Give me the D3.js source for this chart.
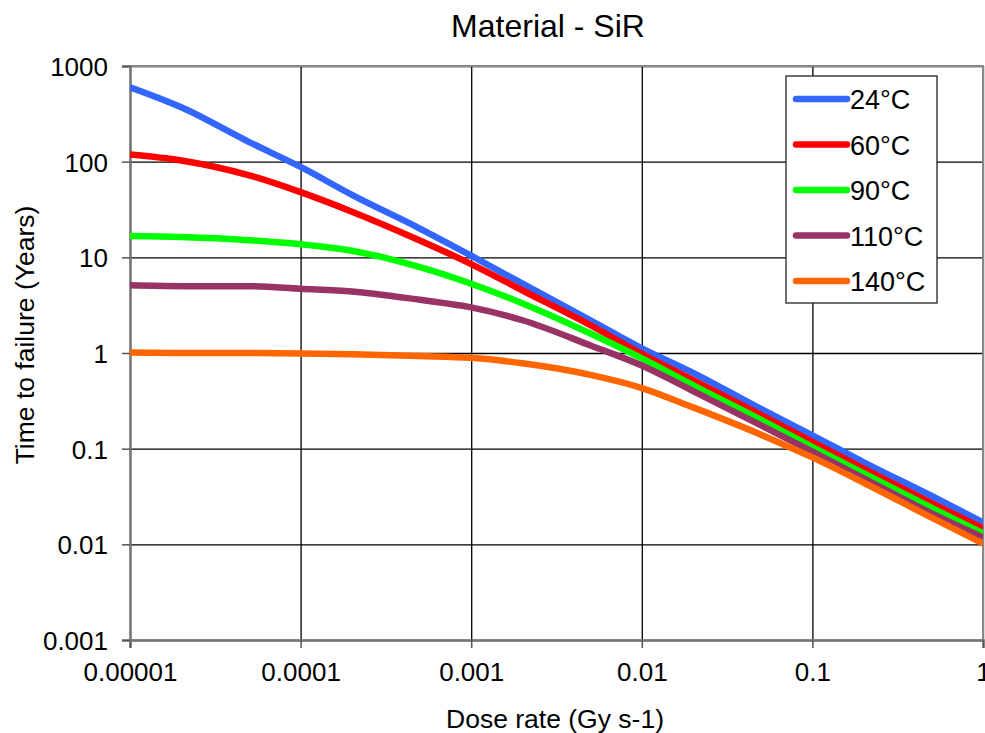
<!DOCTYPE html>
<html>
<head>
<meta charset="utf-8">
<script src="https://cdn.jsdelivr.net/npm/d3@7"></script>
<style>
  body { margin: 0; background: #fff; }
  svg { font-family: "Liberation Sans", Arial, sans-serif; }
</style>
</head>
<body>
<svg id="chart" width="985" height="733"></svg>
<script>
// Dose rate values (Gy s-1)
const doseRates = [1e-5, 2e-5, 5e-5, 1e-4, 2e-4, 5e-4, 1e-3, 2e-3, 5e-3, 1e-2, 2e-2, 5e-2, 0.1, 0.2, 0.5, 1];

// Time to failure (years) per temperature
const t24 = [600, 370, 160, 88, 45, 20, 10.4, 5.3, 2.2, 1.12, 0.62, 0.26, 0.138, 0.072, 0.032, 0.017];
const t60 = [119, 103, 72, 48, 30, 15, 8.5, 4.5, 1.95, 0.98, 0.52, 0.225, 0.118, 0.062, 0.027, 0.0147];
const t90 = [16.7, 16.3, 15.1, 13.7, 11.7, 7.9, 5.3, 3.3, 1.6, 0.88, 0.46, 0.2, 0.104, 0.055, 0.024, 0.013];
const t110 = [5.1, 5.0, 5.0, 4.7, 4.4, 3.6, 3.0, 2.2, 1.2, 0.74, 0.40, 0.175, 0.093, 0.049, 0.021, 0.0118];
const t140 = [1.01, 1.0, 1.0, 0.99, 0.97, 0.93, 0.89, 0.78, 0.59, 0.43, 0.27, 0.14, 0.081, 0.044, 0.019, 0.0102];

const seriesNames = ["24°C", "60°C", "90°C", "110°C", "140°C"];
const seriesValues = [t24, t60, t90, t110, t140];
const seriesColors = ["#3366ff", "#ff0000", "#00ff00", "#993366", "#ff6600"];

const xTicks = [1e-5, 1e-4, 1e-3, 1e-2, 0.1, 1];
const xTickLabels = ["0.00001", "0.0001", "0.001", "0.01", "0.1", "1"];
const yTicks = [0.001, 0.01, 0.1, 1, 10, 100, 1000];
const yTickLabels = ["0.001", "0.01", "0.1", "1", "10", "100", "1000"];

const svg = d3.select("#chart");
const plot = {left: 130, right: 983, top: 66, bottom: 640};

const x = d3.scaleLog().domain([1e-5, 1]).range([plot.left, plot.right]);
const y = d3.scaleLog().domain([0.001, 1000]).range([plot.bottom, plot.top]);

// gridlines
svg.append("g")
    .attr("transform", `translate(0,${plot.bottom})`)
    .call(d3.axisBottom(x).tickValues(xTicks).tickSize(-(plot.bottom - plot.top)).tickFormat(""))
    .call(g => g.select(".domain").remove())
    .selectAll("line").attr("stroke", "#000").attr("stroke-width", 1.3);

svg.append("g")
    .attr("transform", `translate(${plot.left},0)`)
    .call(d3.axisLeft(y).tickValues(yTicks).tickSize(-(plot.right - plot.left)).tickFormat(""))
    .call(g => g.select(".domain").remove())
    .selectAll("line").attr("stroke", "#000").attr("stroke-width", 1.3);

// plot border (top/right)
svg.append("path")
    .attr("d", `M${plot.left},${plot.top}H${plot.right}V${plot.bottom}`)
    .attr("fill", "none")
    .attr("stroke", "#888")
    .attr("stroke-width", 2);

// axes
const xAxis = svg.append("g")
    .attr("transform", `translate(0,${plot.bottom})`)
    .call(d3.axisBottom(x).tickValues(xTicks).tickSize(8).tickPadding(15)
        .tickFormat((d, i) => xTickLabels[i]));
const yAxis = svg.append("g")
    .attr("transform", `translate(${plot.left},0)`)
    .call(d3.axisLeft(y).tickValues(yTicks).tickSize(8).tickPadding(14)
        .tickFormat((d, i) => yTickLabels[i]));

[xAxis, yAxis].forEach(a => {
    a.select(".domain").attr("stroke", "#777").attr("stroke-width", 2.5);
    a.selectAll(".tick line").attr("stroke", "#555").attr("stroke-width", 1.5);
    a.selectAll("text").attr("font-size", 26).attr("fill", "#000")
        .attr("font-family", "Liberation Sans, Arial, sans-serif");
});
yAxis.selectAll("text").attr("dy", "0.36em");

// clip
svg.append("clipPath").attr("id", "plotClip")
    .append("rect").attr("x", plot.left).attr("y", plot.top - 10)
    .attr("width", plot.right - plot.left).attr("height", plot.bottom - plot.top + 10);

const line = d3.line()
    .x(d => x(d[0]))
    .y(d => y(d[1]))
    .curve(d3.curveMonotoneX);

svg.append("g").attr("clip-path", "url(#plotClip)")
    .selectAll("path")
    .data(seriesValues)
    .enter().append("path")
    .attr("d", vals => line(vals.map((v, i) => [doseRates[i], v])))
    .attr("fill", "none")
    .attr("stroke", (d, i) => seriesColors[i])
    .attr("stroke-width", 6.5)
    .attr("stroke-linejoin", "round");

// title
svg.append("text")
    .attr("x", 548).attr("y", 37)
    .attr("text-anchor", "middle")
    .attr("font-size", 32)
    .text("Material - SiR");

// axis titles
svg.append("text")
    .attr("x", 555).attr("y", 728)
    .attr("text-anchor", "middle")
    .attr("font-size", 26.5)
    .text("Dose rate (Gy s-1)");

svg.append("text")
    .attr("transform", "rotate(-90)")
    .attr("x", -335).attr("y", 34)
    .attr("text-anchor", "middle")
    .attr("font-size", 26.5)
    .text("Time to failure (Years)");

// legend
const legend = svg.append("g").attr("transform", "translate(786,76)");
legend.append("rect")
    .attr("width", 151).attr("height", 227)
    .attr("fill", "#fff").attr("stroke", "#222").attr("stroke-width", 1.3);

const rows = legend.selectAll(".row")
    .data(seriesNames)
    .enter().append("g")
    .attr("transform", (d, i) => `translate(0,${23 + i * 45.5})`);

rows.append("line")
    .attr("x1", 10).attr("x2", 61)
    .attr("stroke", (d, i) => seriesColors[i])
    .attr("stroke-width", 6.5)
    .attr("stroke-linecap", "round");

rows.append("text")
    .attr("x", 64).attr("y", 10)
    .attr("font-size", 27)
    .text(d => d);
</script>
</body>
</html>
